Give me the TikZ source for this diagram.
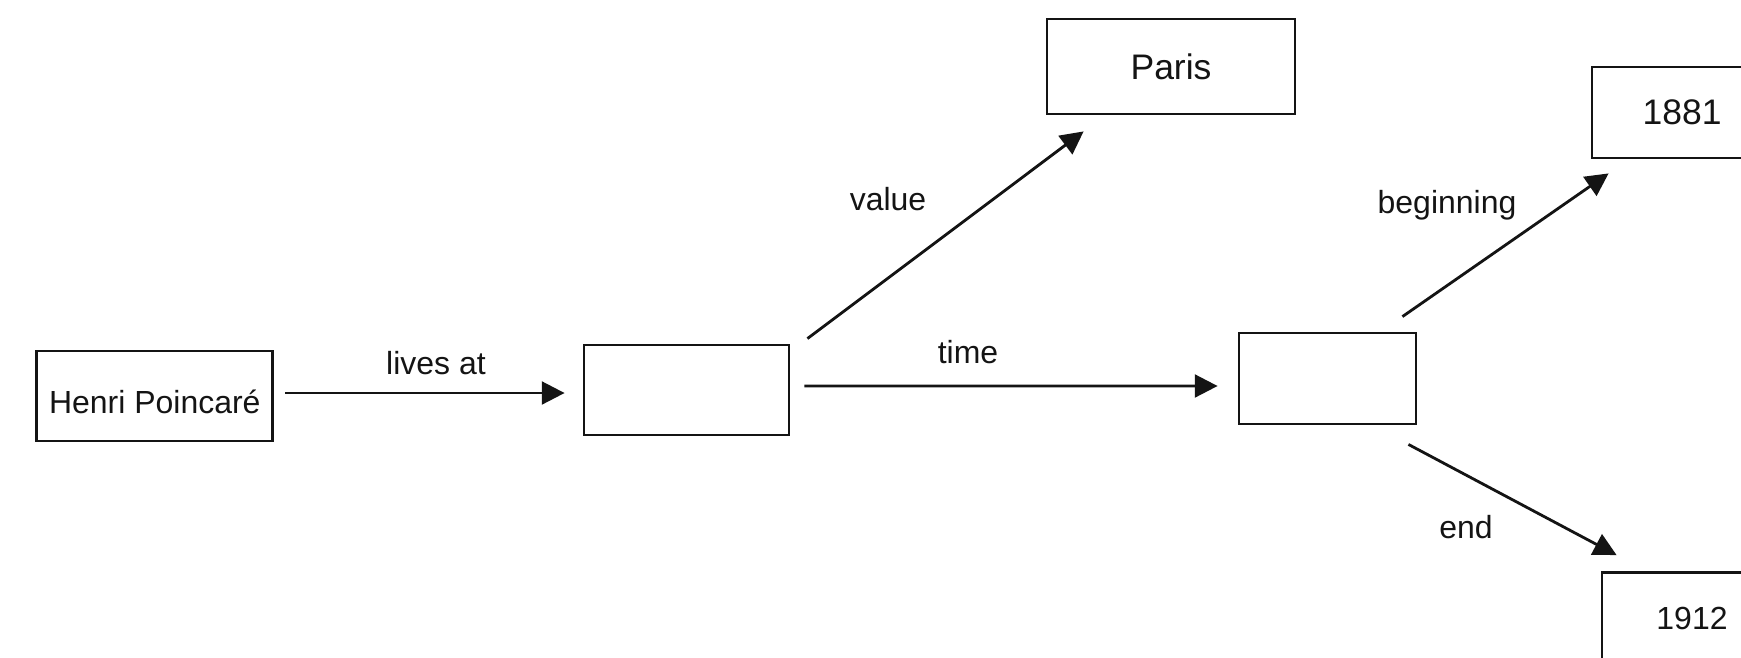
\documentclass[tikz,border=0pt]{standalone}
\usepackage{fontspec}
\setmainfont{Liberation Sans}
\usetikzlibrary{
    positioning,
    arrows.meta,
    calc
}
\definecolor{inkBlack}{RGB}{20, 20, 20}

\begin{document}
\begin{tikzpicture}[>={Triangle[length=6.5pt, width=6.5pt]},
    box/.style={draw=inkBlack, line width=0.8pt, inner sep=0pt, minimum height=0.9cm},
    small/.style={font=\fontsize{9.1}{11}\selectfont, text=inkBlack},
    large/.style={font=\fontsize{10.1}{12}\selectfont, text=inkBlack},
    link/.style={->, line width=0.8pt, draw=inkBlack}]
    \useasboundingbox (0,0) rectangle (17.41,6.57);

    % the person and the blank residence node
    \node[box, small, minimum width=2.36cm, text height=9.7pt, text depth=0pt] (henri) at (1.548,2.61) {Henri Poincaré};
    \node[box, minimum width=2.05cm] (place) at (6.865,2.67) {};
    \node[box, large, minimum width=2.48cm, minimum height=0.95cm] (paris) at (11.71,5.905) {Paris};

    % the blank time span with its two ends
    \node[box, minimum width=1.77cm, minimum height=0.91cm] (span) at (13.275,2.785) {};
    \node[box, large, minimum width=1.80cm, minimum height=0.91cm] (yearBegin) at (16.82,5.445) {1881};
    \node[box, small, minimum width=1.80cm, minimum height=0.91cm] (yearEnd) at (16.92,0.39) {1912};

    % links
    \draw[link] ([xshift=0.11cm, yshift=0.03cm]henri.east) -- ([xshift=-0.18cm, yshift=-0.03cm]place.west);
    \draw[link] ([xshift=0.17cm, yshift=0.05cm]place.north east) -- ([xshift=0.38cm, yshift=-0.16cm]paris.south west);
    \draw[link] ([xshift=0.14cm, yshift=0.04cm]place.east) -- ([xshift=-0.20cm, yshift=-0.075cm]span.west);
    \draw[link] ([xshift=-0.15cm, yshift=0.15cm]span.north east) -- ([xshift=0.18cm, yshift=-0.14cm]yearBegin.south west);
    \draw[link] ([xshift=-0.09cm, yshift=-0.19cm]span.south east) -- ([xshift=0.16cm, yshift=0.16cm]yearEnd.north west);

    % link labels
    \node[small] (livesLbl) at (4.36,2.94) {lives at};
    \node[small] (valueLbl) at (8.88,4.58) {value};
    \node[small] (timeLbl) at (9.68,3.05) {time};
    \node[small] (beginLbl) at (14.47,4.52) {beginning};
    \node[small] (endLbl) at (14.66,1.30) {end};
\end{tikzpicture}
\end{document}
